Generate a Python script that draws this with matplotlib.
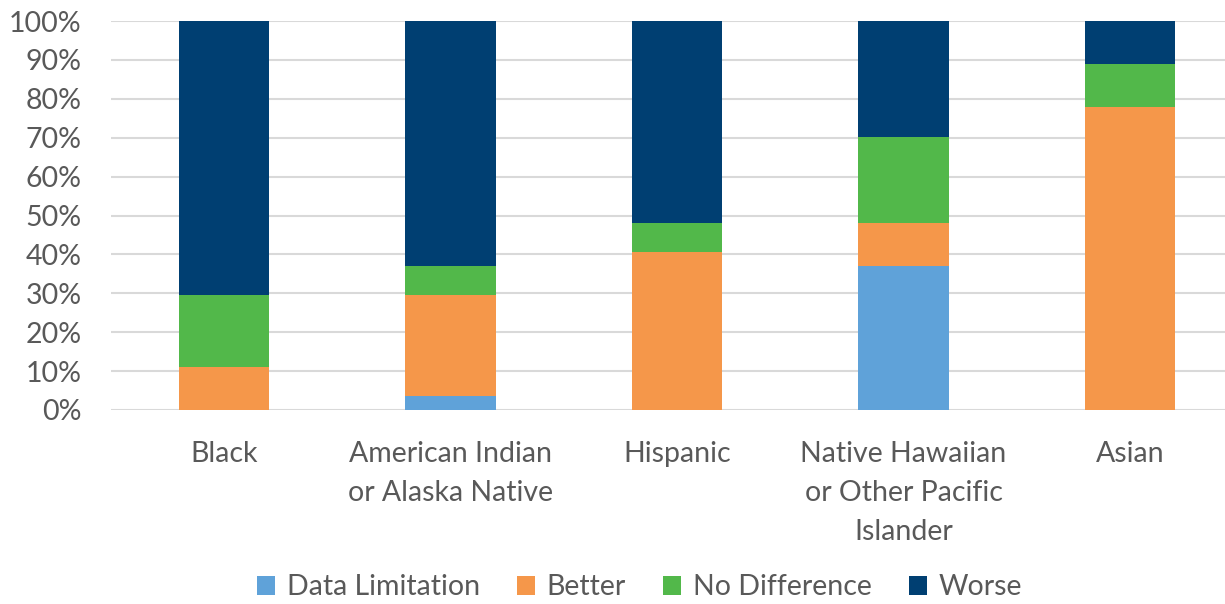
import numpy as np
import matplotlib.pyplot as plt

categories = ['Black', 'American Indian\nor Alaska Native', 'Hispanic',
              'Native Hawaiian\nor Other Pacific\nIslander', 'Asian']
data_limitation = [0.0, 3.7, 0.0, 37.0, 0.0]
better = [11.1, 25.9, 40.7, 11.1, 77.8]
no_difference = [18.5, 7.4, 7.4, 22.2, 11.1]
worse = [70.4, 63.0, 51.9, 29.6, 11.1]

series = [('Data Limitation', data_limitation, '#5fa2d9'),
          ('Better', better, '#f5974a'),
          ('No Difference', no_difference, '#52b84a'),
          ('Worse', worse, '#003f72')]

plt.rcParams['font.family'] = ['Lato', 'DejaVu Sans']
txt = '#595959'

fig = plt.figure(figsize=(12.25, 6.04), dpi=100)
ax = fig.add_axes([0.0906, 0.3212, 0.9094, 0.644])

x = np.arange(len(categories))
bottom = np.zeros(len(categories))
for name, vals, col in series:
    vals = np.array(vals)
    ax.bar(x, vals, 0.4, bottom=bottom, color=col, label=name, zorder=3)
    bottom += vals

ax.set_xlim(-0.5, 4.42)
ax.set_ylim(0, 100)
ax.set_yticks(np.arange(0, 101, 10))
ax.set_yticklabels([f'{v}%' for v in range(0, 101, 10)])
ax.set_xticks(x)
ax.set_xticklabels(categories, linespacing=1.62)
ax.tick_params(axis='both', length=0, labelsize=20.5, colors=txt)
ax.tick_params(axis='x', pad=22)
ax.tick_params(axis='y', pad=21)
ax.grid(axis='y', color='#d9d9d9', linewidth=1.5, zorder=0)
for s in ax.spines.values():
    s.set_visible(False)

fig.legend(loc='center', bbox_to_anchor=(0.522, 0.028), ncol=4, frameon=False,
           fontsize=20.5, labelcolor=txt, handlelength=0.65, handleheight=0.65,
           handletextpad=0.4, columnspacing=1.3)

plt.savefig('out.png', dpi=100)
